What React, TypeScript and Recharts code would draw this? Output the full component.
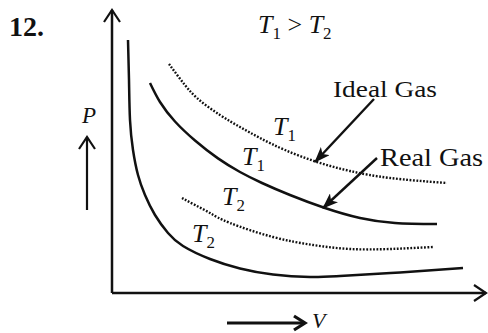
import React from 'react';
import { LineChart, Line, XAxis, YAxis, ReferenceLine } from 'recharts';

// Isotherms read in plot units: v = volume, p = pressure
const realT2 = [
    { v: 16, p: 253 }, { v: 17, p: 213 }, { v: 18, p: 173 }, { v: 21, p: 143 },
    { v: 26, p: 118 }, { v: 33, p: 98 }, { v: 43, p: 78 }, { v: 56, p: 60 },
    { v: 71, p: 47 }, { v: 98, p: 34 }, { v: 128, p: 24.5 }, { v: 161, p: 18.5 },
    { v: 198, p: 16 }, { v: 228, p: 17 }, { v: 288, p: 20.5 }, { v: 351, p: 25 },
];

const realT1 = [
    { v: 38, p: 210 }, { v: 48, p: 191 }, { v: 63, p: 171.5 }, { v: 83, p: 152.5 },
    { v: 106, p: 134.6 }, { v: 128, p: 121 }, { v: 150, p: 110 }, { v: 178, p: 98 },
    { v: 213, p: 85 }, { v: 248, p: 75 }, { v: 283, p: 70 }, { v: 325, p: 69 },
];

const idealT1 = [
    { v: 57, p: 229 }, { v: 69, p: 213 }, { v: 85, p: 195 }, { v: 108, p: 178 },
    { v: 128, p: 166 }, { v: 148, p: 155 }, { v: 173, p: 143 }, { v: 205, p: 131 },
    { v: 238, p: 122 }, { v: 278, p: 115 }, { v: 335, p: 110 },
];

const idealT2 = [
    { v: 70, p: 95 }, { v: 83, p: 88 }, { v: 98, p: 80 }, { v: 118, p: 70 },
    { v: 161, p: 56 }, { v: 201, p: 48 }, { v: 238, p: 44 }, { v: 278, p: 44 },
    { v: 321, p: 46 },
];

const V_MAX = 374;
const P_MAX = 283;

const INK = '#111';
const FONT = '"Liberation Serif", "DejaVu Serif", serif';

// T with a numeric subscript
const TLabel = ({ x, y, sub, size = 26 }: { x: number; y: number; sub: string; size?: number }) => (
    <text x={x} y={y} fontFamily={FONT} fontSize={size} fill={INK}>
        <tspan fontStyle="italic">T</tspan>
        <tspan fontSize={size * 0.65} dy={6}>{sub}</tspan>
    </text>
);

export default function App() {
    return (
        <div style={{ position: 'absolute', left: 0, top: 0, width: 488, height: 333, background: '#fff' }}>
            <svg width={0} height={0} style={{ position: 'absolute' }}>
                <defs>
                    <marker id="chev" viewBox="-2 -2 18 20" markerWidth={18} markerHeight={20}
                        refX={12} refY={8} orient="auto-start-reverse" markerUnits="userSpaceOnUse">
                        <path d="M0,0 L12,8 L0,16" fill="none" stroke={INK} strokeWidth={2.2} />
                    </marker>
                    <marker id="chevBold" viewBox="-2 -2 18 20" markerWidth={18} markerHeight={20}
                        refX={12} refY={8} orient="auto-start-reverse" markerUnits="userSpaceOnUse">
                        <path d="M1,1 L12,8 L1,15" fill="none" stroke={INK} strokeWidth={3.2} />
                    </marker>
                    <marker id="head" viewBox="0 0 16 12" markerWidth={16} markerHeight={12}
                        refX={15} refY={6} orient="auto" markerUnits="userSpaceOnUse">
                        <path d="M0,0 L16,6 L0,12 L4,6 Z" fill={INK} />
                    </marker>
                </defs>
            </svg>

            <LineChart width={488} height={333} margin={{ top: 10, right: 2, bottom: 40, left: 112 }}>
                <XAxis type="number" dataKey="v" domain={[0, V_MAX]} hide />
                <YAxis type="number" dataKey="p" domain={[0, P_MAX]} hide />

                {/* axes with open arrowheads */}
                <ReferenceLine segment={[{ x: 0, y: 0 }, { x: V_MAX, y: 0 }]} ifOverflow="visible"
                    stroke={INK} strokeWidth={2.5} markerEnd="url(#chev)" />
                <ReferenceLine segment={[{ x: 0, y: 0 }, { x: 0, y: P_MAX }]} ifOverflow="visible"
                    stroke={INK} strokeWidth={2.5} markerEnd="url(#chev)" />

                <Line data={realT2} dataKey="p" type="natural" stroke={INK} strokeWidth={2.5}
                    dot={false} isAnimationActive={false} />
                <Line data={realT1} dataKey="p" type="natural" stroke={INK} strokeWidth={2.5}
                    dot={false} isAnimationActive={false} />
                <Line data={idealT1} dataKey="p" type="natural" stroke={INK} strokeWidth={2.4}
                    strokeDasharray="1.8 1.6" dot={false} isAnimationActive={false} />
                <Line data={idealT2} dataKey="p" type="natural" stroke={INK} strokeWidth={2.4}
                    strokeDasharray="1.8 1.6" dot={false} isAnimationActive={false} />

                {/* pointers from the captions to the T1 curves */}
                <ReferenceLine segment={[{ x: 262, y: 194 }, { x: 203, y: 131 }]} ifOverflow="visible"
                    stroke={INK} strokeWidth={2.4} markerEnd="url(#head)" />
                <ReferenceLine segment={[{ x: 265, y: 135 }, { x: 211, y: 85 }]} ifOverflow="visible"
                    stroke={INK} strokeWidth={2.4} markerEnd="url(#head)" />

                {/* P and V direction arrows beside the axes */}
                <ReferenceLine segment={[{ x: -25, y: 83 }, { x: -25, y: 156 }]} ifOverflow="visible"
                    stroke={INK} strokeWidth={2.2} markerEnd="url(#chev)" />
                <ReferenceLine segment={[{ x: 115, y: -30 }, { x: 193, y: -30 }]} ifOverflow="visible"
                    stroke={INK} strokeWidth={3} markerEnd="url(#chevBold)" />
            </LineChart>

            <svg width={488} height={333} style={{ position: 'absolute', left: 0, top: 0, pointerEvents: 'none' }}>
                <text x={9} y={36} fontFamily={FONT} fontSize={28} fontWeight="bold" fill={INK}>12.</text>

                <text x={258} y={33} fontFamily={FONT} fontSize={26} fill={INK}>
                    <tspan fontStyle="italic">T</tspan>
                    <tspan fontSize={17} dy={6}>1</tspan>
                    <tspan dy={-6}> &gt; </tspan>
                    <tspan fontStyle="italic">T</tspan>
                    <tspan fontSize={17} dy={6}>2</tspan>
                </text>

                <text x={82} y={123} fontFamily={FONT} fontSize={23} fontStyle="italic" fill={INK}>P</text>
                <text x={312} y={328} fontFamily={FONT} fontSize={22} fontStyle="italic" fill={INK}>V</text>

                <text x={333} y={97} fontFamily={FONT} fontSize={24} fill={INK}
                    textLength={104} lengthAdjust="spacingAndGlyphs">Ideal Gas</text>
                <text x={380} y={166} fontFamily={FONT} fontSize={25} fill={INK}
                    textLength={103} lengthAdjust="spacingAndGlyphs">Real Gas</text>

                <TLabel x={273} y={135} sub="1" />
                <TLabel x={242} y={165} sub="1" />
                <TLabel x={222} y={205} sub="2" />
                <TLabel x={192} y={242} sub="2" />
            </svg>
        </div>
    );
}
